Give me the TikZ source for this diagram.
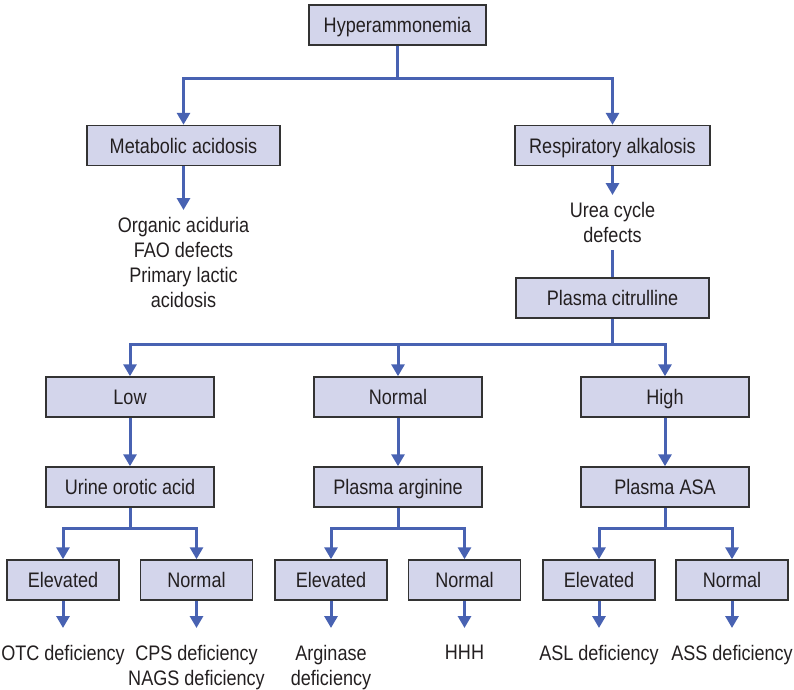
\documentclass[tikz,border=0pt]{standalone}
\usepackage{fontspec}
\setmainfont[FakeStretch=0.86]{Liberation Sans}
\usetikzlibrary{arrows.meta}
\definecolor{lineblue}{HTML}{4862B2}
\definecolor{boxfill}{HTML}{D3D5EB}
\definecolor{boxline}{HTML}{333333}
\definecolor{txt}{HTML}{231F20}
\tikzset{
  box/.style={draw=boxline, line width=1.5pt, fill=boxfill, minimum height=40pt, inner sep=0pt, text height=15.5pt, text depth=0.5pt, text=txt, font=\fontsize{21}{25}\selectfont},
  lbl/.style={align=center, anchor=north, inner sep=0pt, text=txt, font=\fontsize{21}{25}\selectfont},
  conn/.style={draw=lineblue, line width=3pt},
  arr/.style={conn, -{Triangle[width=13pt,length=12pt]}},
}
\begin{document}
\begin{tikzpicture}[x=1pt,y=-1pt]
\useasboundingbox (0,0) rectangle (794,689);
% level 0
\node[box, minimum width=177pt] (hyp) at (397.5,25) {Hyperammonemia};
% level 1
\node[box, minimum width=193pt] (meta) at (183.5,145.5) {Metabolic acidosis};
\node[box, minimum width=195pt] (resp) at (612.5,145.5) {Respiratory alkalosis};
\coordinate (j0) at (397.5,78);
\draw[conn] (hyp.south) -- (j0);
\draw[arr] (j0) -| (meta.north);
\draw[arr] (j0) -| (resp.north);
% metabolic outcome
\node[lbl] (orgtxt) at (183.5,217) {Organic aciduria\\FAO defects\\Primary lactic\\acidosis};
\draw[arr, shorten >=7pt] (meta.south) -- (orgtxt.north);
% urea cycle
\node[lbl] (urea) at (612.5,202) {Urea cycle\\defects};
\draw[arr, shorten >=7pt] (resp.south) -- (urea.north);
\node[box, minimum width=193pt] (cit) at (612.5,298) {Plasma citrulline};
\draw[conn, shorten <=7pt] (urea.south) -- (cit.north);
% level 3
\node[box, minimum width=168pt] (low) at (130,397) {Low};
\node[box, minimum width=168pt] (norm) at (398,397) {Normal};
\node[box, minimum width=168pt] (high) at (665,397) {High};
\coordinate (j1) at (612.5,344);
\draw[conn] (cit.south) -- (j1);
\draw[arr] (j1) -| (low.north);
\draw[arr] (j1) -| (norm.north);
\draw[arr] (j1) -| (high.north);
% level 4
\node[box, minimum width=168pt] (uoa) at (130,487) {Urine orotic acid};
\node[box, minimum width=168pt] (parg) at (398,487) {Plasma arginine};
\node[box, minimum width=168pt] (pasa) at (665,487) {Plasma ASA};
\draw[arr] (low.south) -- (uoa.north);
\draw[arr] (norm.south) -- (parg.north);
\draw[arr] (high.south) -- (pasa.north);
% level 5
\node[box, minimum width=112pt] (e1) at (63,580) {Elevated};
\node[box, minimum width=112pt] (n1) at (196.5,580) {Normal};
\node[box, minimum width=112pt] (e2) at (331,580) {Elevated};
\node[box, minimum width=112pt] (n2) at (464.5,580) {Normal};
\node[box, minimum width=112pt] (e3) at (599,580) {Elevated};
\node[box, minimum width=112pt] (n3) at (732,580) {Normal};
\coordinate (j2) at (130,528);
\coordinate (j3) at (398,528);
\coordinate (j4) at (665,528);
\draw[conn] (uoa.south) -- (j2);
\draw[conn] (parg.south) -- (j3);
\draw[conn] (pasa.south) -- (j4);
\draw[arr] (j2) -| (e1.north);
\draw[arr] (j2) -| (n1.north);
\draw[arr] (j3) -| (e2.north);
\draw[arr] (j3) -| (n2.north);
\draw[arr] (j4) -| (e3.north);
\draw[arr] (j4) -| (n3.north);
% leaves
\node[lbl] (otc) at (63,645) {OTC deficiency};
\node[lbl] (cps) at (196.5,645) {CPS deficiency\\NAGS deficiency};
\node[lbl] (argi) at (331,645) {Arginase\\deficiency};
\node[lbl] (hhh) at (464.5,645) {HHH};
\node[lbl] (asl) at (599,645) {ASL deficiency};
\node[lbl] (ass) at (732,645) {ASS deficiency};
\draw[arr, shorten >=17pt] (e1.south) -- (otc.north);
\draw[arr, shorten >=17pt] (n1.south) -- (cps.north);
\draw[arr, shorten >=17pt] (e2.south) -- (argi.north);
\draw[arr, shorten >=17pt] (n2.south) -- (hhh.north);
\draw[arr, shorten >=17pt] (e3.south) -- (asl.north);
\draw[arr, shorten >=17pt] (n3.south) -- (ass.north);
\end{tikzpicture}
\end{document}
